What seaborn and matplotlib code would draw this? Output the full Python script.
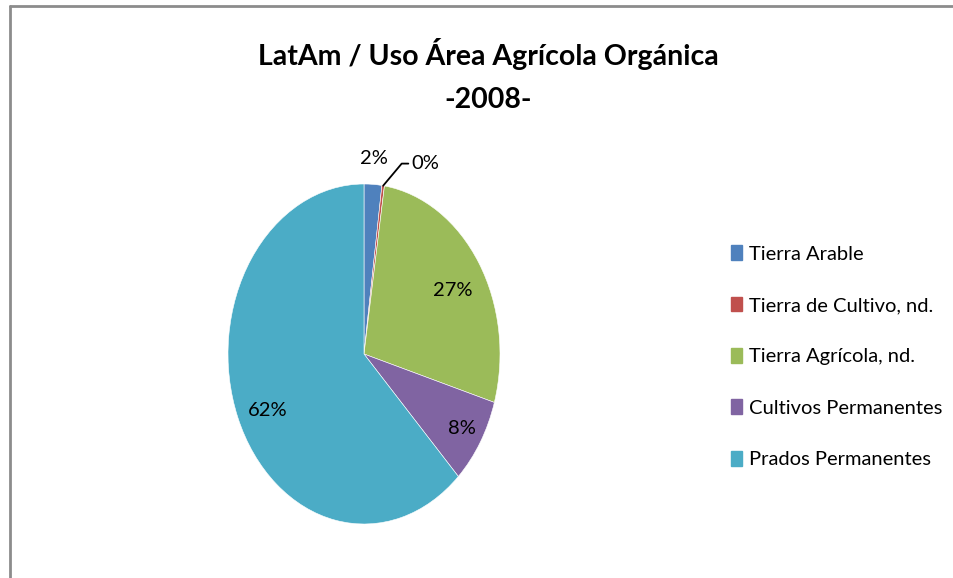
import numpy as np
import matplotlib.pyplot as plt
import seaborn as sns
from matplotlib.lines import Line2D

sns.set_theme(style="white")
plt.rcParams["font.family"] = ["Lato", "DejaVu Sans"]
plt.rcParams["text.color"] = "black"

# data (share of area, %)
categories = ["Tierra Arable", "Tierra de Cultivo, nd.", "Tierra Agrícola, nd.",
              "Cultivos Permanentes", "Prados Permanentes"]
shares = [2.1, 0.3, 27.2, 8.2, 62.2]
pct_labels = ["2%", "0%", "27%", "8%", "62%"]

colors = ["#4F81BD", "#C0504D", "#9BBB59", "#8064A2", "#4BACC6"]
# % label placement: radius (fraction of r) and small angle nudge (deg)
label_r = [1.15, None, 0.755, 0.84, 0.78]
label_dang = [0, 0, -2.5, 0, 3.4]

W, H = 954, 578
fig = plt.figure(figsize=(W / 100, H / 100), dpi=100)

# chart frame (only top / left edges visible in the crop)
fig.add_artist(Line2D([10 / W, 1], [1 - 6 / H, 1 - 6 / H], color="#8c8c8c", lw=2))
fig.add_artist(Line2D([10 / W, 10 / W], [0, 1 - 6 / H], color="#8c8c8c", lw=2))

fig.text(488 / W, 1 - 54 / H, "LatAm / Uso Área Agrícola Orgánica",
         ha="center", va="center", fontsize=20.5, fontweight="bold")
fig.text(488 / W, 1 - 100 / H, "-2008-",
         ha="center", va="center", fontsize=20.5, fontweight="bold")

# pie is stretched vertically in the original
cx, cy, rx, ry = 364, 354, 136, 170
ax = fig.add_axes([(cx - rx) / W, (H - cy - ry) / H, 2 * rx / W, 2 * ry / H])
wedges, _ = ax.pie(shares, colors=colors, startangle=90, counterclock=False,
                   wedgeprops=dict(linewidth=0.4, edgecolor="white"))
ax.set_aspect("auto")
ax.set_xlim(-1, 1)
ax.set_ylim(-1, 1)

for w, lab, r, da in zip(wedges, pct_labels, label_r, label_dang):
    mid = np.deg2rad((w.theta1 + w.theta2) / 2 + da)
    if r is None:
        # tiny slice: label with a leader line
        ax.annotate(lab, xy=(np.cos(mid), np.sin(mid)), xytext=(0.35, 1.12),
                    fontsize=14.5, ha="left", va="center", annotation_clip=False,
                    arrowprops=dict(arrowstyle="-", color="black", lw=1.3,
                                    shrinkA=0, shrinkB=0,
                                    connectionstyle="angle,angleA=0,angleB=50"))
        continue
    ax.text(r * np.cos(mid), r * np.sin(mid), lab, ha="center", va="center",
            fontsize=14.5)

handles = [plt.Rectangle((0, 0), 1, 1, color=c) for c in colors]
fig.legend(handles, categories, loc="upper left",
           bbox_to_anchor=(713 / W, 1 - 227 / H), frameon=False,
           fontsize=14.5, handlelength=0.55, handleheight=0.75,
           handletextpad=0.35, labelspacing=1.69)

fig.savefig("out.png", dpi=100)
